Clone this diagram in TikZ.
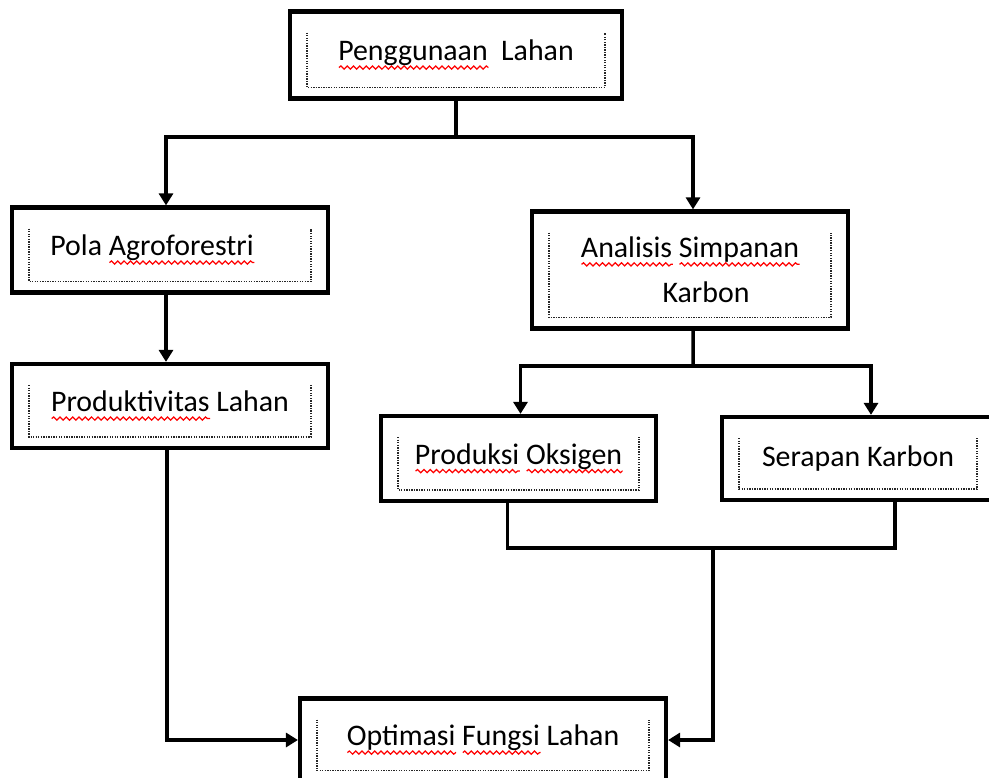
\documentclass[tikz,border=0pt]{standalone}
\usepackage{fontspec}
\setmainfont{Carlito}
\usetikzlibrary{arrows.meta, positioning, decorations.pathmorphing}

% red spell-check wave under a word
\newsavebox\wavebox
\newcommand\spellwave[1]{\leavevmode\sbox\wavebox{#1}%
  \rlap{\raisebox{-5pt}{\tikz[x=1cm,y=1cm]\draw[red, line width=0.7pt,
    decorate, decoration={snake, amplitude=0.9pt, segment length=3.6pt}]
    (0,0) -- (\wd\wavebox,0);}}\usebox\wavebox}

\begin{document}
\begin{tikzpicture}[x=0.02cm, y=-0.02cm,
  box/.style={draw, line width=2.4pt, inner sep=0pt, align=center,
    font=\fontsize{17}{25.6}\selectfont,
    path picture={\draw[black!85, line width=0.75pt, dash pattern=on 0.75pt off 0.7pt]
      ([xshift=0.34cm,yshift=-0.42cm]path picture bounding box.north west)
      |- ([xshift=-0.34cm,yshift=0.22cm]path picture bounding box.south east)
      -- ([xshift=-0.34cm,yshift=-0.42cm]path picture bounding box.north east);}},
  link/.style={line width=2pt},
  arrow/.style={link, -{Triangle[width=0.28cm,length=0.24cm]}}]

% page frame
\useasboundingbox (0,0) rectangle (989,777);

% boxes
\node[box, minimum width=6.64cm, minimum height=1.74cm] (guna) at (456,55)
  {\spellwave{Penggunaan}\hskip0.45em Lahan};
\node[box, minimum width=6.32cm, minimum height=1.7cm] (pola) at (170,250)
  {Pola \spellwave{Agroforestri}\hspace*{0.72cm}};
\node[box, minimum width=6.32cm, minimum height=1.68cm] (prod) at (170,406)
  {\spellwave{Produktivitas} Lahan};
\node[box, minimum width=6.32cm, minimum height=2.34cm] (anal) at (690,270)
  {\spellwave{Analisis} \spellwave{Simpanan}\\ \hspace*{0.64cm}Karbon};
\node[box, minimum width=5.5cm, minimum height=1.7cm] (oks) at (518.5,458.5)
  {\spellwave{Produksi} \spellwave{Oksigen}};
\node[box, minimum width=5.44cm, minimum height=1.66cm] (serap) at (858,458.5)
  {Serapan Karbon};
\node[box, minimum width=7.32cm, minimum height=1.66cm] (opt) at (483,740)
  {\spellwave{Optimasi} \spellwave{Fungsi} Lahan};

% split points
\coordinate (topsplit) at (456,137);
\coordinate (midsplit) at (693,366);
\coordinate (join) at (713,548);

% connectors
\draw[link] (guna.south) -- (topsplit);
\draw[arrow] (topsplit) -| ([xshift=-0.08cm]pola.north);
\draw[arrow] (topsplit) -| ([xshift=0.06cm]anal.north);
\draw[arrow] ([xshift=-0.08cm]pola.south) -- ([xshift=-0.08cm]prod.north);

\draw[link] ([xshift=0.06cm]anal.south) -- (midsplit);
\draw[arrow] (midsplit) -| ([xshift=0.04cm]oks.north);
\draw[arrow] (midsplit) -| ([xshift=0.26cm]serap.north);

\draw[link] ([xshift=-0.22cm]oks.south) |- (join) -| ([xshift=0.74cm]serap.south);
\draw[arrow] (join) |- (opt.east);
\draw[arrow] ([xshift=-0.06cm]prod.south) |- (opt.west);

\end{tikzpicture}
\end{document}
